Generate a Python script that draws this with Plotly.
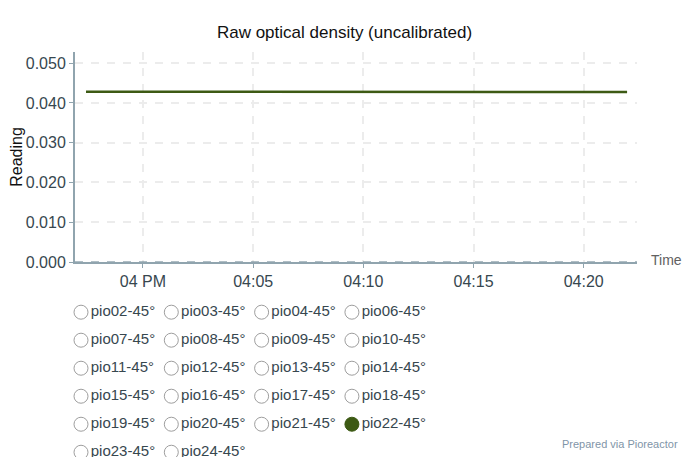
import plotly.graph_objects as go
import pandas as pd

# Raw OD readings for the one unit that reported (pio22-45°)
times = [
    "2023-01-01 15:57:25", "2023-01-01 15:58:30", "2023-01-01 15:59:30",
    "2023-01-01 16:00:30", "2023-01-01 16:01:30", "2023-01-01 16:02:30",
    "2023-01-01 16:03:30", "2023-01-01 16:04:30", "2023-01-01 16:05:30",
    "2023-01-01 16:06:30", "2023-01-01 16:07:30", "2023-01-01 16:08:30",
    "2023-01-01 16:09:30", "2023-01-01 16:10:30", "2023-01-01 16:11:30",
    "2023-01-01 16:12:30", "2023-01-01 16:13:30", "2023-01-01 16:14:30",
    "2023-01-01 16:15:30", "2023-01-01 16:16:30", "2023-01-01 16:17:30",
    "2023-01-01 16:18:30", "2023-01-01 16:19:30", "2023-01-01 16:20:30",
    "2023-01-01 16:21:10", "2023-01-01 16:21:58",
]
readings = [
    0.04282, 0.04279, 0.04272, 0.04274, 0.04276, 0.04280, 0.04281, 0.04281,
    0.04282, 0.04282, 0.04281, 0.04282, 0.04282, 0.04282, 0.04282, 0.04281,
    0.04282, 0.04282, 0.04282, 0.04282, 0.04282, 0.04281, 0.04281, 0.04286,
    0.04287, 0.04275,
]

# legend units, in reading order (4 per row)
units = [
    "pio02-45°", "pio03-45°", "pio04-45°", "pio06-45°",
    "pio07-45°", "pio08-45°", "pio09-45°", "pio10-45°",
    "pio11-45°", "pio12-45°", "pio13-45°", "pio14-45°",
    "pio15-45°", "pio16-45°", "pio17-45°", "pio18-45°",
    "pio19-45°", "pio20-45°", "pio21-45°", "pio22-45°",
    "pio23-45°", "pio24-45°",
]
active_unit = "pio22-45°"
legend_cols = 4

x_range = ["2023-01-01 15:56:55", "2023-01-01 16:22:25"]
tick_vals = ["2023-01-01 16:00", "2023-01-01 16:05", "2023-01-01 16:10",
             "2023-01-01 16:15", "2023-01-01 16:20"]
tick_text = ["04 PM", "04:05", "04:10", "04:15", "04:20"]
y_ticks = [0.0, 0.01, 0.02, 0.03, 0.04, 0.05]

line_color = "#3d5a14"
axis_color = "#90a4ae"
grid_color = "#ececec"
tick_font_color = "#37474f"
open_color = "#9e9e9e"
font_family = "Liberation Sans, Arial, sans-serif"

fig = go.Figure()

fig.add_trace(go.Scatter(
    x=pd.to_datetime(times),
    y=readings,
    mode="lines",
    name=active_unit,
    line=dict(color=line_color, width=2.5),
    xaxis="x", yaxis="y",
))

# Victory-style legend: a grid of circles + labels underneath the chart
leg_col = [i % legend_cols for i in range(len(units))]
leg_row = [i // legend_cols for i in range(len(units))]
fig.add_trace(go.Scatter(
    x=leg_col,
    y=leg_row,
    mode="markers+text",
    text=units,
    textposition="middle right",
    textfont=dict(size=15, color=tick_font_color, family=font_family),
    marker=dict(
        size=14,
        symbol=["circle" if u == active_unit else "circle-open" for u in units],
        color=[line_color if u == active_unit else open_color for u in units],
        line=dict(width=1, color=[line_color if u == active_unit else open_color for u in units]),
    ),
    cliponaxis=False,
    hoverinfo="skip",
    xaxis="x2", yaxis="y2",
))

fig.update_layout(
    width=682,
    height=449,
    margin=dict(l=0, r=0, t=0, b=0, autoexpand=False),
    showlegend=False,
    paper_bgcolor="white",
    plot_bgcolor="rgba(0,0,0,0)",
    font=dict(family=font_family, size=15, color=tick_font_color),
    title=dict(
        text="Raw optical density (uncalibrated)",
        font=dict(size=17, color="#111111"),
        x=0.4934, xanchor="center", y=0.9465, yanchor="middle",
    ),
    xaxis=dict(
        domain=[0.09824, 0.92229],
        anchor="y",
        range=pd.to_datetime(x_range),
        tickvals=pd.to_datetime(tick_vals),
        ticktext=tick_text,
        showline=True, linecolor=axis_color, linewidth=2,
        ticks="outside", ticklen=4, tickcolor=axis_color,
        showgrid=True, gridcolor=grid_color, griddash="8px,8px", gridwidth=1.5,
        tickfont=dict(size=16, color=tick_font_color),
        zeroline=False,
    ),
    yaxis=dict(
        domain=[0.4343, 0.9020],
        anchor="x",
        range=[0, 0.0528],
        tickvals=y_ticks,
        tickformat=".3f",
        title=dict(text="Reading", font=dict(size=16, color="#111111"), standoff=4),
        showline=True, linecolor=axis_color, linewidth=2,
        ticks="outside", ticklen=4, tickcolor=axis_color,
        showgrid=True, gridcolor=grid_color, griddash="8px,8px", gridwidth=1.5,
        tickfont=dict(size=16, color=tick_font_color),
        zeroline=False,
    ),
    # helper axes that place the legend grid (one unit per column / row)
    xaxis2=dict(domain=[0, 1], anchor="y2", range=[-0.8084, 6.744], visible=False),
    yaxis2=dict(domain=[0, 1], anchor="x2", range=[5.17, -10.86], visible=False),
    shapes=[dict(
        type="line", xref="x domain", x0=0, x1=1, yref="y", y0=0, y1=0,
        line=dict(color="#607d8b", width=1, dash="8px,8px"), layer="above",
    )],
    annotations=[
        dict(text="Time", xref="paper", yref="paper", x=0.9399, y=0.4388,
             xanchor="left", yanchor="middle", showarrow=False,
             font=dict(size=14, color="#616161")),
        dict(text="Prepared via Pioreactor", xref="paper", yref="paper",
             x=0.9853, y=0.02895, xanchor="right", yanchor="middle", showarrow=False,
             font=dict(size=11, color="#7f95a8")),
    ],
)

fig.write_html("out.html")
